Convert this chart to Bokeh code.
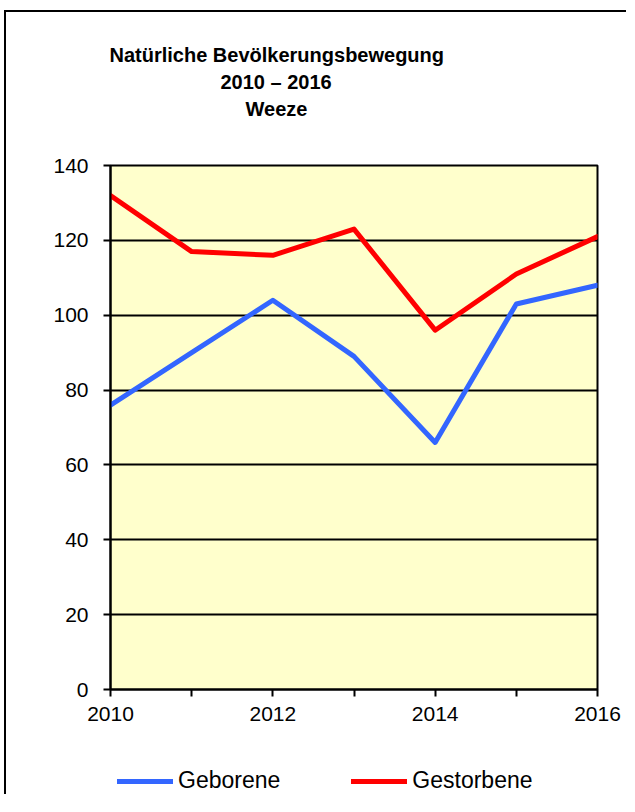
from bokeh.plotting import figure
from bokeh.models import Range1d, FixedTicker, Title, Legend, LegendItem
from bokeh.layouts import column
from bokeh.embed import file_html
from bokeh.resources import INLINE

years = [2010, 2011, 2012, 2013, 2014, 2015, 2016]
geborene = [76, 90, 104, 89, 66, 103, 108]
gestorbene = [132, 117, 116, 123, 96, 111, 121]
x_major = [2010, 2012, 2014, 2016]
x_minor = [2011, 2013, 2015]
y_ticks = [0, 20, 40, 60, 80, 100, 120, 140]
title_lines = ["Natürliche Bevölkerungsbewegung", "2010 \u2013 2016", "Weeze"]
series_names = ["Geborene", "Gestorbene"]
series_colors = ["#3366FF", "#FF0000"]

FONT = "Liberation Sans"

p = figure(frame_width=487, frame_height=524, output_backend="svg", toolbar_location=None,
           x_range=Range1d(2010, 2016), y_range=Range1d(0, 140),
           min_border_left=104, min_border_right=29, min_border_top=153, min_border_bottom=46)
p.title.visible = False

p.background_fill_color = "#FFFFCC"
p.border_fill_color = "white"
p.outline_line_color = "black"
p.outline_line_width = 2

p.xgrid.grid_line_color = None
p.ygrid.grid_line_color = "black"
p.ygrid.grid_line_width = 2

p.xaxis.ticker = FixedTicker(ticks=x_major, minor_ticks=x_minor)
p.yaxis.ticker = FixedTicker(ticks=y_ticks)

for ax in (p.xaxis, p.yaxis):
    ax.axis_line_color = "black"
    ax.axis_line_width = 2
    ax.major_tick_line_color = "black"
    ax.major_tick_line_width = 2
    ax.major_tick_in = 0
    ax.major_tick_out = 7
    ax.major_label_text_font = FONT
    ax.major_label_text_font_size = "21px"
    ax.major_label_text_color = "black"

p.xaxis.minor_tick_line_color = "black"
p.xaxis.minor_tick_line_width = 2
p.xaxis.minor_tick_in = 0
p.xaxis.minor_tick_out = 7
p.yaxis.minor_tick_line_color = None
p.yaxis.major_label_standoff = 15
p.xaxis.major_label_standoff = 10

p.line(years, geborene, line_color=series_colors[0], line_width=5, line_join="round", line_cap="round")
p.line(years, gestorbene, line_color=series_colors[1], line_width=5, line_join="round", line_cap="round")

# spacer between frame and title, then the three title lines (inner to outer)
p.add_layout(Title(text=" ", text_font_size="1px", standoff=41), "above")
offsets = [-1, 110, 135]
for txt, off in reversed(list(zip(title_lines, offsets))):
    p.add_layout(Title(text=txt, align="left", offset=off, standoff=3,
                       text_font=FONT, text_font_size="20px", text_font_style="bold",
                       text_color="black"), "above")

# legend strip: a second, axis-less figure directly below the chart
# (its ranges exclude the data, so the lines only serve as legend glyphs)
p2 = figure(width=620, height=59, output_backend="svg", toolbar_location=None,
            x_axis_type=None, y_axis_type=None,
            x_range=Range1d(0, 1), y_range=Range1d(0, 1),
            min_border_left=0, min_border_right=0, min_border_top=0, min_border_bottom=0)
p2.title.visible = False
p2.outline_line_color = None
p2.background_fill_color = "white"
p2.border_fill_color = "white"
p2.xgrid.grid_line_color = None
p2.ygrid.grid_line_color = None
l1 = p2.line(years, geborene, line_color=series_colors[0], line_width=5, line_cap="round")
l2 = p2.line(years, gestorbene, line_color=series_colors[1], line_width=5, line_cap="round")

legend = Legend(items=[LegendItem(label=series_names[0], renderers=[l1]),
                       LegendItem(label=series_names[1], renderers=[l2])],
                orientation="horizontal", location=(7, 0),
                glyph_width=56, glyph_height=26, label_height=26, label_standoff=5, spacing=71,
                padding=0, margin=0, border_line_color=None, background_fill_alpha=0,
                label_text_font=FONT, label_text_font_size="23px", label_text_color="black")
p2.add_layout(legend, "center")

layout = column(p, p2, spacing=0,
                styles={"border-left": "2px solid black", "border-top": "2px solid black",
                        "margin-left": "4px", "margin-top": "10px"})

open("out.html", "w").write(file_html(layout, INLINE))
